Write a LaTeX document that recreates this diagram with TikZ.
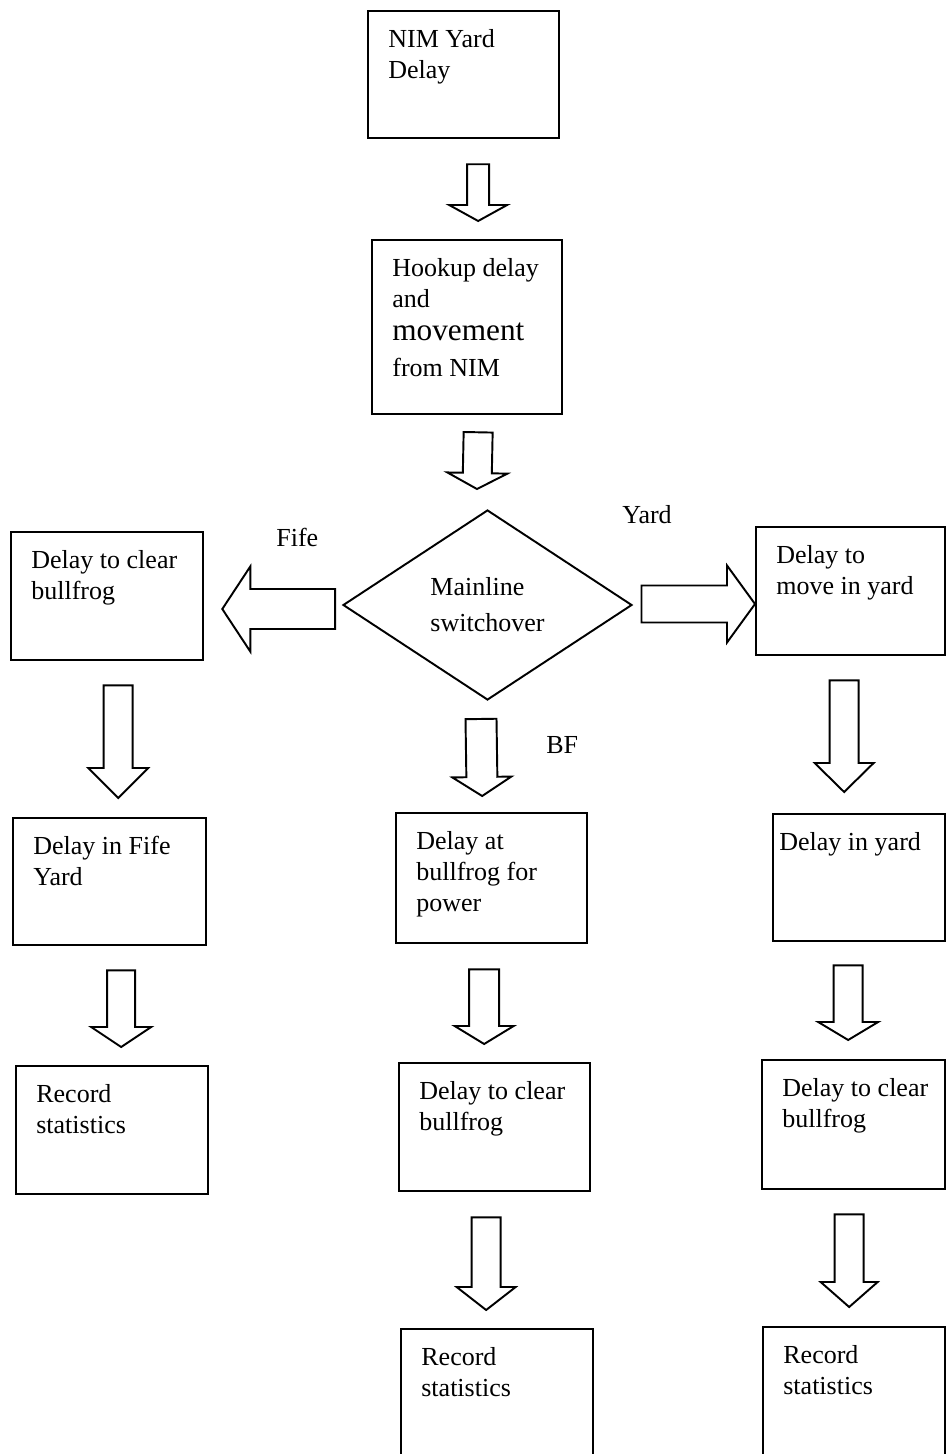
\documentclass[tikz,border=0pt]{standalone}
\usepackage{fontspec}
\setmainfont{Liberation Serif}
\usetikzlibrary{calc,shapes.geometric}
\newcommand{\boxfont}{\fontsize{14.8}{17.6}\selectfont}
\tikzset{fatshaft/.store in=\fatsw,fathead/.store in=\fathw,fatlen/.store in=\fathl,
  fatshaft=0.3cm,fathead=0.6cm,fatlen=0.5cm}
\newcommand{\fatarrow}[3][]{%
\begin{scope}[#1]
\path (#2) coordinate (fa-s) (#3) coordinate (fa-e) ($(fa-e)!\fathl!(fa-s)$) coordinate (fa-h);
\draw[fatline] ($(fa-s)!\fatsw!90:(fa-e)$)--($(fa-h)!\fatsw!90:(fa-e)$)--($(fa-h)!\fathw!90:(fa-e)$)--(fa-e)
  --($(fa-h)!\fathw!-90:(fa-e)$)--($(fa-h)!\fatsw!-90:(fa-e)$)--($(fa-s)!\fatsw!-90:(fa-e)$)--cycle;
\end{scope}}
\begin{document}
\begin{tikzpicture}[line join=miter,
  box/.style={draw,line width=1.3pt,anchor=north west,minimum width=3.82cm,minimum height=2.56cm,inner sep=0pt},
  txt/.style={anchor=north west,align=left,inner sep=0pt,xshift=0.42cm,yshift=-0.38cm,font=\boxfont},
  boxtext/.style={label={[txt]north west:#1}},
  fatline/.style={line width=1.1pt,line join=miter},
  lbl/.style={anchor=base west,inner sep=0pt,font=\boxfont}]
\useasboundingbox (0,0) rectangle (18.9,-29.08);
\node[box,minimum height=2.54cm,boxtext={NIM Yard\\Delay}] (nim) at (7.34,-0.20) {};
\node[box,minimum width=3.80cm,minimum height=3.48cm,boxtext={Hookup delay\\and\\[1.5pt]{\fontsize{17.8}{21}\selectfont movement}\\[2.5pt]from NIM}] (hook) at (7.42,-4.78) {};
\node[diamond,draw,line width=1.1pt,minimum width=5.78cm,minimum height=3.80cm,aspect=1.52,inner sep=0pt,align=left,font=\boxfont] (sw) at (9.75,-12.10) {Mainline\\[3pt]switchover};
\node[box,minimum width=3.84cm,boxtext={Delay to clear\\bullfrog}] (fifeclr) at (0.20,-10.62) {};
\node[box,minimum width=3.78cm,boxtext={Delay to\\move in yard}] (yardmove) at (15.10,-10.52) {};
\node[box,minimum width=3.86cm,minimum height=2.54cm,boxtext={Delay in Fife\\Yard}] (fifedly) at (0.24,-16.34) {};
\node[box,minimum height=2.60cm,boxtext={Delay at\\bullfrog for\\power}] (bfpower) at (7.90,-16.24) {};
\node[box,minimum width=3.44cm,minimum height=2.54cm,label={[txt,xshift=-0.28cm]north west:Delay in yard}] (yarddly) at (15.44,-16.26) {};
\node[box,minimum width=3.84cm,boxtext={Record\\statistics}] (fiferec) at (0.30,-21.30) {};
\node[box,boxtext={Delay to clear\\bullfrog}] (bfclr) at (7.96,-21.24) {};
\node[box,minimum width=3.66cm,minimum height=2.58cm,boxtext={Delay to clear\\bullfrog}] (yardclr) at (15.22,-21.18) {};
\node[box,minimum width=3.84cm,minimum height=2.7cm,boxtext={Record\\statistics}] (bfrec) at (8.00,-26.56) {};
\node[box,minimum width=3.64cm,minimum height=2.7cm,boxtext={Record\\statistics}] (yardrec) at (15.24,-26.52) {};
\node[lbl] (fife) at (5.52,-10.92) {Fife};
\node[lbl] (yard) at (12.44,-10.46) {Yard};
\node[lbl] (bf) at (10.92,-15.06) {BF};
\fatarrow[fatshaft=0.22cm,fathead=0.58cm,fatlen=0.32cm]{$(nim.south)+(0.29,-0.50)$}{$(hook.north)+(0.22,0.36)$}
\fatarrow[fatshaft=0.29cm,fathead=0.60cm,fatlen=0.32cm]{$(hook.south)+(0.22,-0.34)$}{$(sw.north)+(-0.21,0.40)$}
\fatarrow[fatshaft=0.40cm,fathead=0.85cm,fatlen=0.56cm]{$(sw.west)+(-0.14,-0.08)$}{$(fifeclr.east |- sw.west)+(0.36,-0.08)$}
\fatarrow[fatshaft=0.37cm,fathead=0.77cm,fatlen=0.56cm]{$(sw.east)+(0.17,0.02)$}{$(yardmove.west |- sw.east)+(0,0.02)$}
\fatarrow[fatshaft=0.31cm,fathead=0.59cm,fatlen=0.38cm]{$(sw.south)+(-0.13,-0.36)$}{$(bfpower.north)+(-0.19,0.32)$}
\fatarrow[fatshaft=0.29cm,fathead=0.60cm,fatlen=0.60cm]{$(fifeclr.south)+(0.22,-0.48)$}{$(fifedly.north)+(0.17,0.38)$}
\fatarrow[fatshaft=0.28cm,fathead=0.60cm,fatlen=0.40cm]{$(fifedly.south)+(0.23,-0.48)$}{$(fiferec.north)+(0.18,0.36)$}
\fatarrow[fatshaft=0.30cm,fathead=0.59cm,fatlen=0.36cm]{$(bfpower.south)+(-0.15,-0.50)$}{$(bfclr.north)+(-0.21,0.36)$}
\fatarrow[fatshaft=0.29cm,fathead=0.59cm,fatlen=0.46cm]{$(bfclr.south)+(-0.17,-0.50)$}{$(bfrec.north)+(-0.22,0.36)$}
\fatarrow[fatshaft=0.29cm,fathead=0.59cm,fatlen=0.58cm]{$(yardmove.south)+(-0.13,-0.48)$}{$(yarddly.north)+(-0.30,0.42)$}
\fatarrow[fatshaft=0.29cm,fathead=0.60cm,fatlen=0.36cm]{$(yarddly.south)+(-0.22,-0.46)$}{$(yardclr.north)+(-0.11,0.38)$}
\fatarrow[fatshaft=0.29cm,fathead=0.57cm,fatlen=0.50cm]{$(yardclr.south)+(-0.09,-0.48)$}{$(yardrec.north)+(-0.10,0.38)$}
\end{tikzpicture}
\end{document}
